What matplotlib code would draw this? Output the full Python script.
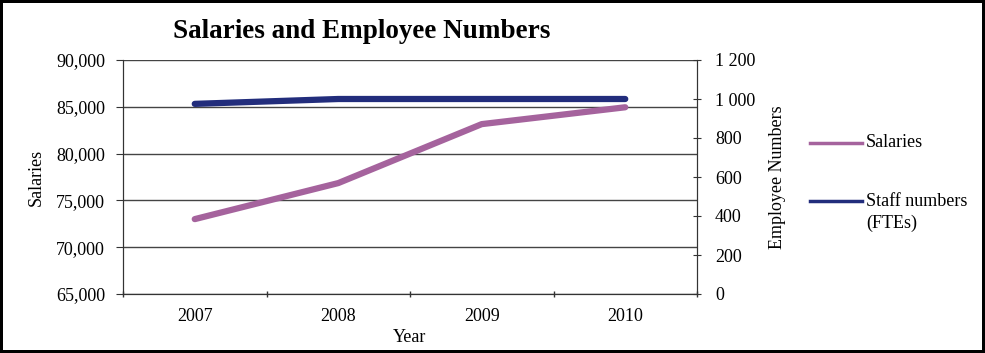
import matplotlib
matplotlib.use("Agg")
import matplotlib.pyplot as plt
from matplotlib.lines import Line2D
from matplotlib.ticker import FuncFormatter, FixedLocator

years = ["2007", "2008", "2009", "2010"]
salaries = [73000, 76850, 83150, 84950]
staff = [975, 1000, 1000, 1000]
series_labels = ["Salaries", "Staff numbers\n(FTEs)"]

sal_color = "#A5639D"
staff_color = "#222D7C"
font = "Liberation Serif"
plt.rcParams["font.family"] = [font, "DejaVu Serif"]
fs = 13

fig = plt.figure(figsize=(9.85, 3.53), dpi=100)
fig.patch.set_edgecolor("black")
fig.patch.set_linewidth(3)

ax = fig.add_axes([123/985, 1-294/353, (697-123)/985, (294-60)/353])
ax2 = ax.twinx()

x = list(range(len(years)))
l1, = ax.plot(x, salaries, color=sal_color, lw=4.5, solid_capstyle="round")
l2, = ax2.plot(x, staff, color=staff_color, lw=4.5, solid_capstyle="round")

ax.set_xlim(-0.5, len(years) - 0.5)
ax.set_ylim(65000, 90000)
ax.set_yticks(range(65000, 90001, 5000))
ax.yaxis.set_major_formatter(FuncFormatter(lambda v, p: f"{int(v):,}"))
ax2.set_ylim(0, 1200)
ax2.set_yticks(range(0, 1201, 200))
ax2.yaxis.set_major_formatter(FuncFormatter(lambda v, p: f"{int(v):,}".replace(",", " ")))

ax.set_xticks(x)
ax.set_xticklabels(years)
ax.tick_params(axis="x", which="major", length=0, pad=10, labelsize=fs)
ax.xaxis.set_minor_locator(FixedLocator([i - 0.5 for i in range(len(years) + 1)]))
ax.tick_params(axis="x", which="minor", length=5, direction="inout", width=1, color="#333333")
ax.tick_params(axis="y", length=5, direction="out", labelsize=fs, color="#333333", pad=8)
ax2.tick_params(axis="y", length=6, direction="inout", labelsize=fs, color="#333333", pad=10)

ax.grid(axis="y", color="#444444", lw=1)
ax.set_axisbelow(True)
for a in (ax, ax2):
    for s in a.spines.values():
        s.set_color("#333333")
    a.spines["top"].set_visible(False)

ax.set_xlabel("Year", fontsize=fs, labelpad=3)
ax.set_ylabel("Salaries", fontsize=fs, labelpad=8)
ax2.set_ylabel("Employee Numbers", fontsize=fs, labelpad=10)

fig.text(362/985, 1-32/353, "Salaries and Employee Numbers", ha="center", va="center",
         fontsize=19.5, fontweight="bold")

# legend drawn manually so the handle sits on the first text line
leg_y = [143, 201]
line_gap = 23
for line, label, yy in zip([l1, l2], series_labels, leg_y):
    fy = 1 - yy/353
    fig.add_artist(Line2D([810/985, 862/985], [fy, fy], transform=fig.transFigure,
                          color=line.get_color(), lw=2.5))
    n = label.count("\n")
    cy = 1 - (yy + n * line_gap / 2)/353
    fig.text(866/985, cy, label, ha="left", va="center", fontsize=fs,
             linespacing=1.3, transform=fig.transFigure)

fig.savefig("out.png", dpi=100)
